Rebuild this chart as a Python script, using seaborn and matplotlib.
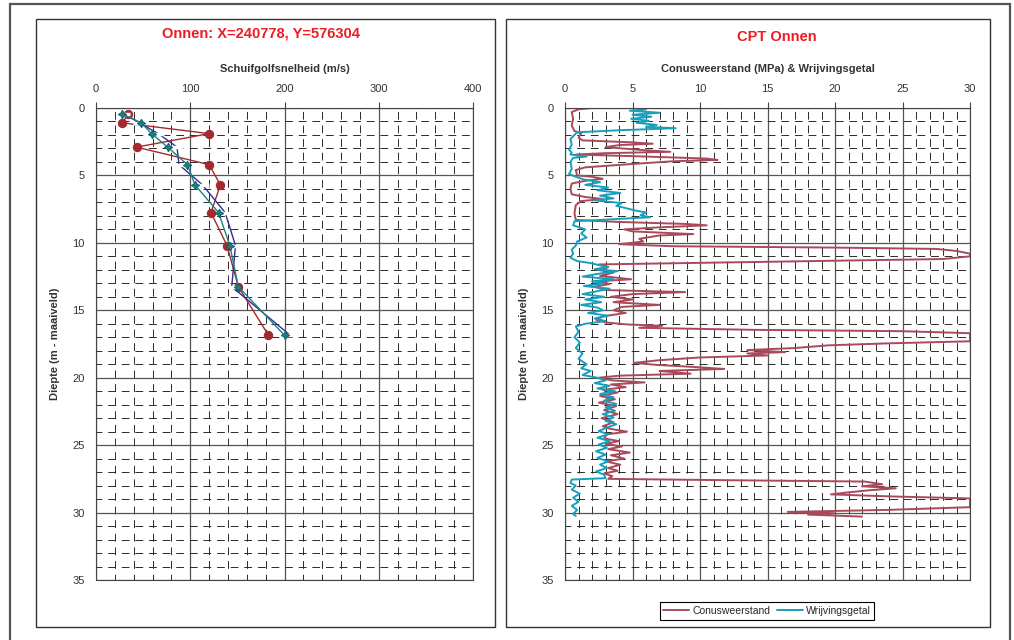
import matplotlib
matplotlib.use('Agg')
import matplotlib.pyplot as plt
import numpy as np
import pandas as pd
import seaborn as sns
from matplotlib.ticker import MultipleLocator
from matplotlib.patches import Rectangle

# ====================== DATA ======================
# shear wave velocity profiles (m/s) at the same depths
vs_depth = [0.45, 1.1, 1.9, 2.9, 4.2, 5.7, 7.75, 10.2, 13.25, 16.85]
vs_red = [34, 28, 120, 43, 120, 132, 122, 139, 151, 183]
vs_blue = [30, 46, 66, 86, 88, 113, 137, 148, 144, 206]
vs_teal = [28, 48, 59, 76, 97, 105, 130, 142, 151, 200]

# CPT: cone resistance (MPa)
qc_depth = [0.0, 0.1, 0.3, 0.8, 1.3, 1.7, 1.9, 2.2, 2.4, 2.55, 2.65, 2.75, 2.9, 3.1,
            3.25, 3.35, 3.45, 3.6, 3.75, 3.85, 3.95, 4.15, 4.4, 4.6, 5.0, 5.1, 5.25,
            5.4, 5.6, 6.0, 6.4, 6.6, 6.75, 6.9, 7.2, 7.8, 8.3, 8.45, 8.6, 8.7, 8.85,
            9.0, 9.15, 9.35, 9.45, 9.7, 9.9, 10.1, 10.25, 10.35, 10.45, 10.6, 10.8,
            11.0, 11.2, 11.4, 11.6, 11.8, 12.0, 12.2, 12.45, 12.7, 12.85, 13.05, 13.25,
            13.5, 13.65, 13.8, 14.0, 14.2, 14.4, 14.6, 14.75, 15.0, 15.2, 15.45, 15.7,
            15.9, 16.05, 16.15, 16.3, 16.45, 16.55, 16.7, 17.0, 17.3, 17.45, 17.6,
            17.8, 17.95, 18.1, 18.2, 18.35, 18.5, 18.7, 18.9, 19.05, 19.2, 19.35,
            19.5, 19.7, 19.85, 20.0, 20.2, 20.35, 20.5, 20.7, 20.9, 21.1, 21.35, 21.6,
            21.85, 22.1, 22.4, 22.7, 23.0, 23.3, 23.6, 23.8, 24.0, 24.2, 24.5, 24.7,
            24.9, 25.1, 25.3, 25.55, 25.75, 26.0, 26.2, 26.45, 26.7, 26.9, 27.1, 27.3,
            27.5, 27.6, 27.7, 27.9, 28.05, 28.2, 28.35, 28.5, 28.65, 28.8, 28.95,
            29.3, 29.6, 29.8, 29.95, 30.05, 30.15, 30.3]
qc_value = [2.0, 1.0, 0.5, 0.6, 0.5, 0.7, 1.2, 1.0, 1.3, 5.0, 6.5, 4.0, 3.0, 5.5,
            7.8, 3.0, 0.8, 6.0, 10.5, 11.3, 8.0, 5.0, 1.5, 0.8, 0.9, 2.0, 2.8,
            1.5, 0.5, 0.4, 0.5, 1.5, 2.8, 1.2, 0.8, 0.7, 0.8, 4.0, 9.0, 10.5, 7.0,
            4.4, 5.0, 9.5, 7.0, 5.5, 5.8, 4.0, 8.0, 20.0, 27.5, 29.0, 30.0,
            30.0, 28.0, 15.0, 2.5, 3.2, 2.4, 3.6, 2.6, 4.9, 2.5, 3.3, 2.2,
            3.0, 8.9, 5.0, 3.4, 5.0, 3.6, 7.0, 4.2, 3.6, 4.5, 2.8, 2.3,
            3.0, 4.6, 7.2, 5.5, 14.0, 25.0, 30.0, 30.0, 30.0, 24.0, 19.5,
            17.0, 13.5, 16.3, 13.5, 15.0, 10.0, 7.0, 5.1, 6.8, 9.5, 11.8,
            7.0, 9.3, 4.0, 2.5, 3.5, 5.9, 3.4, 4.5, 2.8, 3.9, 2.6, 3.7,
            2.5, 3.8, 2.9, 3.9, 2.7, 3.6, 2.8, 3.4, 4.6, 3.1, 2.9, 4.0,
            3.0, 4.2, 3.2, 4.8, 3.4, 4.4, 3.0, 4.1, 3.2, 3.9, 2.9, 3.5,
            3.2, 12.0, 22.2, 23.5, 22.0, 24.5, 22.5, 21.0, 19.7, 24.0, 30.0,
            30.0, 30.0, 24.0, 16.5, 20.0, 18.0, 22.0]

# CPT: friction ratio
rf_depth = [0.1, 0.2, 0.35, 0.5, 0.65, 0.8, 0.95, 1.1, 1.25, 1.4, 1.5, 1.65, 1.8, 2.0,
            2.3, 2.7, 3.1, 3.3, 3.45, 3.6, 3.7, 4.0, 4.5, 4.9, 5.1, 5.3, 5.5, 5.7,
            5.9, 6.1, 6.3, 6.5, 6.7, 6.85, 7.05, 7.25, 7.45, 7.6, 7.75, 7.95, 8.1,
            8.25, 8.4, 8.7, 9.0, 9.3, 9.6, 9.9, 10.2, 10.5, 10.8, 11.1, 11.35, 11.5,
            11.65, 11.8, 11.95, 12.1, 12.3, 12.5, 12.7, 12.85, 13.0, 13.2, 13.4, 13.6,
            13.8, 14.0, 14.2, 14.4, 14.6, 14.8, 15.0, 15.2, 15.4, 15.6, 15.8, 16.0,
            16.2, 16.6, 17.0, 17.4, 17.8, 18.2, 18.6, 19.0, 19.3, 19.5, 19.8, 20.0,
            20.2, 20.4, 20.6, 20.8, 21.0, 21.2, 21.45, 21.7, 21.95, 22.2, 22.45, 22.7,
            22.95, 23.2, 23.45, 23.7, 23.95, 24.2, 24.45, 24.7, 24.95, 25.2, 25.45,
            25.7, 25.95, 26.2, 26.45, 26.7, 26.95, 27.2, 27.45, 27.55, 27.8, 28.0,
            28.3, 28.6, 28.9, 29.2, 29.5, 29.8, 30.1, 30.25]
rf_value = [6.0, 4.8, 7.0, 5.0, 6.4, 4.9, 6.2, 5.3, 6.8, 6.0, 8.2, 4.0, 0.9, 0.7,
            0.4, 0.5, 0.3, 0.5, 0.4, 1.6, 0.6, 0.4, 0.5, 0.3, 0.8, 1.4, 2.6, 1.5,
            3.2, 2.4, 4.1, 2.6, 3.6, 2.2, 4.2, 3.8, 4.6, 5.2, 6.0, 5.6, 6.3,
            3.5, 0.7, 0.6, 1.5, 1.2, 1.6, 0.9, 0.8, 0.5, 0.6, 0.4, 0.9, 1.9,
            2.5, 3.2, 2.2, 3.9, 2.4, 1.3, 3.6, 2.0, 2.9, 1.4, 3.3, 2.3,
            1.3, 2.9, 1.5, 2.7, 1.2, 2.4, 2.8, 1.7, 3.2, 2.2, 3.0, 1.5,
            0.8, 1.0, 0.7, 1.1, 0.8, 1.3, 1.0, 1.6, 1.2, 1.9, 1.3, 2.4,
            3.0, 2.2, 3.3, 2.4, 3.7, 2.6, 3.6, 2.9, 3.8, 3.0, 3.7, 2.8,
            3.6, 3.0, 3.8, 3.1, 2.5, 3.2, 2.4, 3.3, 2.5, 3.1, 2.3,
            3.0, 2.4, 3.2, 2.6, 3.1, 2.3, 2.9, 3.0, 0.5, 0.4, 0.8,
            0.5, 1.1, 0.6, 1.0, 0.5, 0.9, 0.6, 0.8]

vs_df = pd.DataFrame({'depth': vs_depth, 'red': vs_red, 'blue': vs_blue, 'teal': vs_teal})
qc_df = pd.DataFrame({'depth': qc_depth, 'value': qc_value})
rf_df = pd.DataFrame({'depth': rf_depth, 'value': rf_value})

# ====================== STYLE ======================
sns.set_style('white')
plt.rcParams['font.family'] = ['Liberation Sans', 'DejaVu Sans']

W, H = 1014, 640
fig = plt.figure(figsize=(W / 100, H / 100), dpi=100)


def fx(px):
    return px / W


def fy(py):
    return 1 - py / H


# outer frame and panel boxes
fig.patches.append(Rectangle((fx(10), -0.05), fx(1000), fy(4) + 0.05, transform=fig.transFigure,
                             fill=False, edgecolor='#555555', lw=1.6))
for x0, x1 in [(36, 495), (506, 990)]:
    fig.patches.append(Rectangle((fx(x0), fy(627)), fx(x1 - x0), fy(19) - fy(627),
                                 transform=fig.transFigure, fill=False, edgecolor='#333333', lw=1.0))


def style_axes(ax, xmax, xmajor, xminor, xlabel):
    ax.set_xlim(0, xmax)
    ax.set_ylim(35, 0)
    ax.xaxis.set_major_locator(MultipleLocator(xmajor))
    ax.xaxis.set_minor_locator(MultipleLocator(xminor))
    ax.yaxis.set_major_locator(MultipleLocator(5))
    ax.yaxis.set_minor_locator(MultipleLocator(1))
    ax.xaxis.tick_top()
    ax.xaxis.set_label_position('top')
    ax.set_axisbelow(True)
    ax.grid(which='major', color='#555555', lw=0.9, ls='-')
    ax.grid(which='minor', color='#2a2a2a', lw=0.7, ls=(2, (8, 6)))
    ax.tick_params(which='major', direction='out', length=4, width=0.8, color='#444444',
                   labelsize=8, labelcolor='#333333')
    ax.tick_params(axis='x', which='major', pad=6)
    ax.tick_params(axis='y', which='major', pad=4)
    ax.tick_params(axis='y', which='minor', direction='in', length=4, width=0.6, color='#444444')
    ax.tick_params(axis='x', which='minor', length=0)
    for s in ax.spines.values():
        s.set_color('#444444')
        s.set_linewidth(0.8)
    ax.set_xlabel(xlabel, fontsize=8, fontweight='bold', color='#333333', labelpad=9)
    ax.set_ylabel('Diepte (m - maaiveld)', fontsize=8, fontweight='bold', color='#333333', labelpad=9)


# ====================== LEFT: SHEAR WAVE VELOCITY ======================
ax1 = fig.add_axes([fx(96), fy(580), fx(473 - 96), fy(108) - fy(580)])
sns.lineplot(data=vs_df, x='red', y='depth', sort=False, estimator=None, ax=ax1,
             color='#A32A2E', lw=1.0, marker='o', markersize=6, markeredgecolor='#A32A2E')
sns.lineplot(data=vs_df, x='blue', y='depth', sort=False, estimator=None, ax=ax1,
             color='#2E3192', lw=1.0, marker='_', markersize=8, markeredgewidth=2.5)
sns.lineplot(data=vs_df, x='teal', y='depth', sort=False, estimator=None, ax=ax1,
             color='#1C8484', lw=1.0, marker=(4, 1, 0), markersize=6,
             markeredgecolor='#145F6A', markerfacecolor='#1C8484')
style_axes(ax1, 400, 100, 20, 'Schuifgolfsnelheid (m/s)')
fig.text(fx(261), fy(33), 'Onnen: X=240778, Y=576304', ha='center', va='center',
         color='#ED1C24', fontsize=10.5, fontweight='bold')

# ====================== RIGHT: CPT ======================
ax2 = fig.add_axes([fx(565), fy(580), fx(970 - 565), fy(108) - fy(580)])
sns.lineplot(data=qc_df, x='value', y='depth', sort=False, estimator=None, ax=ax2,
             color='#A94A5B', lw=1.4, label='Conusweerstand')
sns.lineplot(data=rf_df, x='value', y='depth', sort=False, estimator=None, ax=ax2,
             color='#17A0BE', lw=1.4, label='Wrijvingsgetal')
style_axes(ax2, 30, 5, 1, 'Conusweerstand (MPa) & Wrijvingsgetal')
fig.text(fx(777), fy(37), 'CPT Onnen', ha='center', va='center',
         color='#ED1C24', fontsize=10.5, fontweight='bold')

leg = ax2.legend(loc='center', bbox_to_anchor=(fx(767), fy(611)), bbox_transform=fig.transFigure,
                 ncol=2, frameon=True, fancybox=False, edgecolor='black', fontsize=7.5,
                 handlelength=2.5, borderpad=0.35, columnspacing=0.6, handletextpad=0.3)
leg.get_frame().set_linewidth(0.8)
leg.get_frame().set_alpha(1)

plt.savefig('out.png', dpi=100, facecolor='white')
